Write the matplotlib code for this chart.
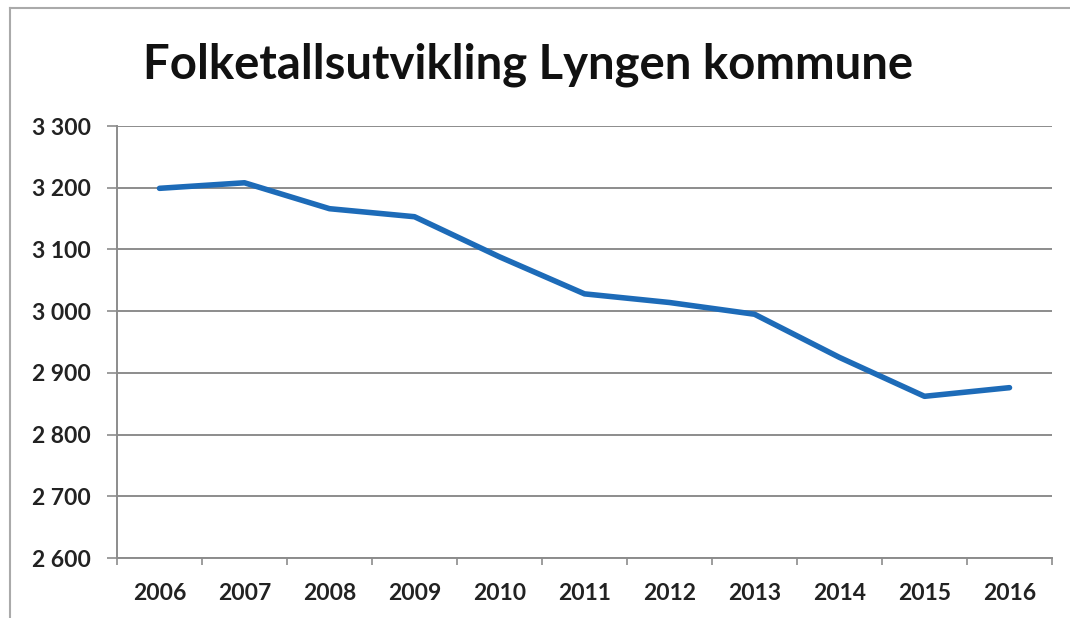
import numpy as np
import matplotlib.pyplot as plt
from matplotlib.ticker import FuncFormatter, FixedLocator

years = ['2006', '2007', '2008', '2009', '2010', '2011', '2012', '2013', '2014', '2015', '2016']
folketall = [3199, 3208, 3166, 3153, 3088, 3028, 3014, 2995, 2925, 2862, 2876]

plt.rcParams['font.family'] = ['Lato', 'DejaVu Sans']

fig = plt.figure(figsize=(10.7, 6.18), dpi=100)
ax = fig.add_axes([117 / 1070, 1 - 558 / 618, (1052 - 117) / 1070, (558 - 126) / 618])

x = np.arange(len(years))
ax.plot(x, folketall, color='#1d6bb8', linewidth=4, solid_capstyle='round', zorder=3)

ax.set_xlim(-0.5, len(years) - 0.5)
ax.set_ylim(2600, 3300)
ax.set_yticks(np.arange(2600, 3301, 100))
ax.yaxis.set_major_formatter(FuncFormatter(lambda v, p: f"{int(v):,}".replace(',', ' ')))

ax.set_xticks(x)
ax.set_xticklabels(years)
ax.xaxis.set_minor_locator(FixedLocator(np.arange(-0.5, len(years), 1.0)))
ax.tick_params(axis='x', which='major', length=0, pad=18, labelsize=16.5, colors='#222222')
ax.tick_params(axis='x', which='minor', length=5, width=1.2, color='#8c8c8c')
ax.tick_params(axis='y', length=7, width=1.2, color='#8c8c8c', labelsize=16.5, labelcolor='#222222', pad=12)
for lab in ax.get_xticklabels() + ax.get_yticklabels():
    lab.set_fontweight('bold')

ax.grid(axis='y', color='#8c8c8c', linewidth=1.4)
ax.set_axisbelow(True)
for s in ['top', 'right']:
    ax.spines[s].set_visible(False)
ax.spines['left'].set_color('#8c8c8c')
ax.spines['bottom'].set_color('#8c8c8c')
ax.spines['left'].set_linewidth(1.4)
ax.spines['bottom'].set_linewidth(1.4)

fig.text(528 / 1070, 1 - 65 / 618, 'Folketallsutvikling Lyngen kommune', ha='center', va='center',
         fontsize=34, fontweight='bold', color='#111111')

# scan frame
fig.add_artist(plt.Line2D([10 / 1070, 10 / 1070], [0, 1 - 8 / 618], transform=fig.transFigure, color='#aaaaaa', linewidth=1.5))
fig.add_artist(plt.Line2D([10 / 1070, 1], [1 - 8 / 618, 1 - 8 / 618], transform=fig.transFigure, color='#aaaaaa', linewidth=1.5))

fig.savefig('out.png', dpi=100)
